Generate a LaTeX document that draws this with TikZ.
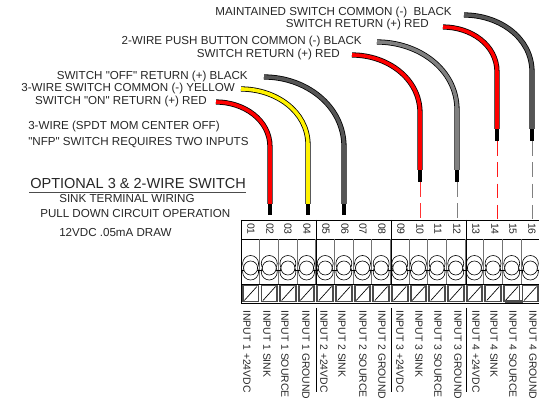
\documentclass[tikz,border=0pt]{standalone}
\usepackage{fontspec}
\newfontfamily\wirefont{Liberation Sans}
\tikzset{
  wire/.style={line width=.6pt,double=#1,double distance=2.7pt},
  wiretip/.style={line width=3pt,black},
  wiredash/.style={line width=.6pt,draw=#1,dash pattern=on 11pt off 5pt},
  lbl/.style={font=\wirefont\fontsize{8.7}{10}\selectfont,text=black!85,inner sep=0pt},
  titlelbl/.style={font=\wirefont\fontsize{10.9}{12}\selectfont,text=black!85,inner sep=0pt},
  numlbl/.style={font=\wirefont\fontsize{7.8}{9}\selectfont,text=black!85,rotate=-90,inner sep=0pt},
  inputlbl/.style={font=\wirefont\fontsize{7.8}{9}\selectfont,text=black!85,rotate=-90,anchor=west,inner sep=0pt},
}
\definecolor{wiredark}{HTML}{555555}
\definecolor{wiregray}{HTML}{808080}
\begin{document}
\begin{tikzpicture}[x=.75pt,y=-.75pt]
\useasboundingbox (0,0) rectangle (539,409);

% wires
\coordinate (r1a) at (216,102); \coordinate (r1b) at (270,147); \coordinate (r1c) at (270,204); \coordinate (r1d) at (270,215);
\coordinate (y1a) at (241,89);  \coordinate (y1b) at (308,145); \coordinate (y1c) at (308,204); \coordinate (y1d) at (308,215);
\coordinate (k1a) at (264,77);  \coordinate (k1b) at (344,147); \coordinate (k1c) at (344,204); \coordinate (k1d) at (344,215);
\coordinate (r2a) at (352,55);  \coordinate (r2b) at (420,113); \coordinate (r2c) at (420,170); \coordinate (r2d) at (420,182); \coordinate (r2e) at (420,219);
\coordinate (k2a) at (377,42);  \coordinate (k2b) at (457,110); \coordinate (k2c) at (457,170); \coordinate (k2d) at (457,182); \coordinate (k2e) at (457,219);
\coordinate (r3a) at (443,27);  \coordinate (r3b) at (497,72);  \coordinate (r3c) at (497,129); \coordinate (r3d) at (497,141); \coordinate (r3e) at (497,219);
\coordinate (k3a) at (464,15);  \coordinate (k3b) at (532,72);  \coordinate (k3c) at (532,129); \coordinate (k3d) at (532,141); \coordinate (k3e) at (532,219);

\draw[wiredash=red!80] (r2d)--(r2e);
\draw[wiredash=wiregray] (k2d)--(k2e);
\draw[wiredash=red!90] (r3d)--(r3e);
\draw[wiredash=wiregray] (k3d)--(k3e);

\draw[wiretip] (r1c)--(r1d);
\draw[wiretip] (y1c)--(y1d);
\draw[wiretip] (k1c)--(k1d);
\draw[wiretip] (r2c)--(r2d);
\draw[wiretip] (k2c)--(k2d);
\draw[wiretip] (r3c)--(r3d);
\draw[wiretip] (k3c)--(k3d);

\draw[wire=red] (r1a) to[out=0,in=90] (r1b)--(r1c);
\draw[wire=yellow] (y1a) to[out=0,in=90] (y1b)--(y1c);
\draw[wire=wiredark] (k1a) to[out=0,in=90] (k1b)--(k1c);
\draw[wire=red] (r2a) to[out=0,in=90] (r2b)--(r2c);
\draw[wire=wiregray] (k2a) to[out=0,in=90] (k2b)--(k2c);
\draw[wire=red] (r3a) to[out=0,in=90] (r3b)--(r3c);
\draw[wire=wiredark] (k3a) to[out=0,in=90] (k3b)--(k3c);

% terminal strip
\draw[line width=.7pt] (241,220)--(539,220);
\draw[line width=.5pt] (241,239)--(539,239);
\draw[line width=.5pt] (241,220)--(241,303);
\foreach \i in {0,...,15}{
  \pgfmathsetmacro{\xl}{241.3+18.65*\i}
  \pgfmathsetmacro{\xm}{\xl+9.3}
  \pgfmathsetmacro{\xr}{\xl+18.65}
  \draw[line width=.7pt,black!55] (\xr,239)--(\xr,284);
  \draw[line width=.4pt] (\xl,270)--(\xr,270);
  \draw[line width=.45pt,fill=white] (\xm,263.5) circle (8);
  \draw[line width=.45pt] (\xm,272) circle (8);
  \draw[line width=.45pt,fill=white] (\xm,268) circle (7);
  \draw[line width=1.4pt,black!70,fill=white] (\xl+1.5,285.5) rectangle (\xr-1.5,301.5);
  \draw[line width=.5pt] (\xl+3,300.5)--(\xr-3,286.5);
}
\fill[black!70] (505,300) rectangle (522.5,303);
\draw[line width=.6pt] (241,284)--(539,284);
\draw[line width=.6pt] (241,303)--(539,303);
\draw[line width=.6pt] (316.3,220)--(316.3,284);
\draw[line width=.6pt] (391.3,220)--(391.3,284);
\draw[line width=.6pt] (466.2,220)--(466.2,284);
\draw[line width=.6pt] (316.3,308)--(316.3,392);
\draw[line width=.6pt] (391.3,308)--(391.3,392);
\draw[line width=.6pt] (466.2,308)--(466.2,392);

\node[numlbl] (n01) at (251,229) {01};
\node[numlbl] (n02) at (270,229) {02};
\node[numlbl] (n03) at (288,229) {03};
\node[numlbl] (n04) at (307,229) {04};
\node[numlbl] (n05) at (326,229) {05};
\node[numlbl] (n06) at (345,229) {06};
\node[numlbl] (n07) at (363,229) {07};
\node[numlbl] (n08) at (382,229) {08};
\node[numlbl] (n09) at (401,229) {09};
\node[numlbl] (n10) at (420,229) {10};
\node[numlbl] (n11) at (438,229) {11};
\node[numlbl] (n12) at (457,229) {12};
\node[numlbl] (n13) at (476,229) {13};
\node[numlbl] (n14) at (495,229) {14};
\node[numlbl] (n15) at (513,229) {15};
\node[numlbl] (n16) at (532,229) {16};

\node[inputlbl] (i01) at (247,310) {INPUT 1 +24VDC};
\node[inputlbl] (i02) at (267,310) {INPUT 1 SINK};
\node[inputlbl] (i03) at (285,310) {INPUT 1 SOURCE};
\node[inputlbl] (i04) at (306,310) {INPUT 1 GROUND};
\node[inputlbl] (i05) at (324,310) {INPUT 2 +24VDC};
\node[inputlbl] (i06) at (342,310) {INPUT 2 SINK};
\node[inputlbl] (i07) at (363,310) {INPUT 2 SOURCE};
\node[inputlbl] (i08) at (382,310) {INPUT 2 GROUND};
\node[inputlbl] (i09) at (400,310) {INPUT 3 +24VDC};
\node[inputlbl] (i10) at (419,310) {INPUT 3 SINK};
\node[inputlbl] (i11) at (438,310) {INPUT 3 SOURCE};
\node[inputlbl] (i12) at (458,310) {INPUT 3 GROUND};
\node[inputlbl] (i13) at (476,310) {INPUT 4 +24VDC};
\node[inputlbl] (i14) at (494,310) {INPUT 4 SINK};
\node[inputlbl] (i15) at (513,310) {INPUT 4 SOURCE};
\node[inputlbl] (i16) at (533,310) {INPUT 4 GROUND};

% labels
\node[lbl,anchor=east] (t1) at (452,13) {MAINTAINED SWITCH COMMON (-)\ \ BLACK};
\node[lbl,anchor=east] (t2) at (429,25) {SWITCH RETURN (+) RED};
\node[lbl,anchor=east] (t3) at (362,42) {2-WIRE PUSH BUTTON COMMON (-) BLACK};
\node[lbl,anchor=east] (t4) at (340,55) {SWITCH RETURN (+) RED};
\node[lbl,anchor=east] (t5) at (248,77) {SWITCH "OFF" RETURN (+) BLACK};
\node[lbl,anchor=east] (t6) at (235,89) {3-WIRE SWITCH COMMON (-) YELLOW};
\node[lbl,anchor=east] (t7) at (207,102) {SWITCH "ON" RETURN (+) RED};
\node[lbl,anchor=west] (t8) at (28,127) {3-WIRE (SPDT MOM CENTER OFF)};
\node[lbl,anchor=west] (t9) at (28,143) {"NFP" SWITCH REQUIRES TWO INPUTS};
\node[titlelbl,anchor=west] (t10) at (30,184) {OPTIONAL 3 \& 2-WIRE SWITCH};
\draw[line width=.6pt,black!70] (29,192.5)--(246,192.5);
\node[lbl,anchor=west] (t11) at (59,199) {SINK TERMINAL WIRING};
\node[lbl,anchor=west] (t12) at (40,214) {PULL DOWN CIRCUIT OPERATION};
\node[lbl,anchor=west] (t13) at (59,233) {12VDC .05mA DRAW};
\end{tikzpicture}
\end{document}
